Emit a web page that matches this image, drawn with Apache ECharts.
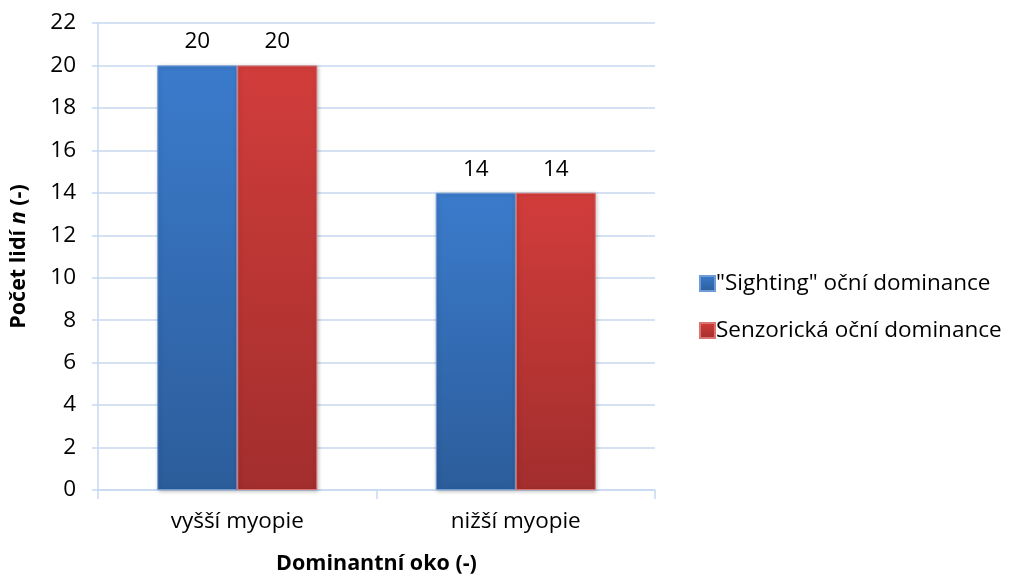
<!DOCTYPE html>
<html>
<head>
<meta charset="utf-8">
<script src="https://cdn.jsdelivr.net/npm/echarts@6/dist/echarts.min.js"></script>
<style>
  html, body { margin: 0; padding: 0; background: #fff; }
  #chart { width: 1013px; height: 580px; }
</style>
</head>
<body>
<div id="chart"></div>
<script>
// data
var categories = ['vyšší myopie', 'nižší myopie'];
var seriesNames = ['"Sighting" oční dominance', 'Senzorická oční dominance'];
var sightingValues = [20, 14];
var senzorickaValues = [20, 14];

var FONT = '"Open Sans", sans-serif';
var FS = 22.5;
var FSB = 21.5;

function grad(top, bottom) {
  return new echarts.graphic.LinearGradient(0, 0, 0, 1, [
    { offset: 0, color: top },
    { offset: 1, color: bottom }
  ]);
}

var chart = echarts.init(document.getElementById('chart'));
var option = {
  animation: false,
  textStyle: { fontFamily: FONT },
  grid: { left: 96, right: 358, top: 23, bottom: 88 },
  legend: {
    orient: 'vertical',
    left: 694,
    top: 267,
    itemWidth: 15,
    itemHeight: 15,
    itemGap: 24,
    icon: 'rect',
    textStyle: { fontSize: FS, color: '#000', fontFamily: FONT, padding: [0, 0, 0, -4] },
    data: seriesNames
  },
  xAxis: {
    type: 'category',
    data: categories,
    name: 'Dominantní oko (-)',
    nameLocation: 'middle',
    nameGap: 63,
    nameTextStyle: { fontSize: FSB, fontWeight: 'bold', color: '#000', fontFamily: FONT },
    axisLine: { lineStyle: { color: '#c6d9f1', width: 1.5 } },
    axisTick: { show: true, alignWithLabel: false, length: 9, lineStyle: { color: '#c6d9f1', width: 1.5 } },
    axisLabel: { fontSize: FS, color: '#000', margin: 20, fontFamily: FONT }
  },
  yAxis: {
    type: 'value',
    min: 0,
    max: 22,
    interval: 2,
    name: '{b|Počet lidí }{i|n}{b| (-)}',
    nameLocation: 'middle',
    nameGap: 68,
    nameRotate: 90,
    nameTextStyle: {
      rich: {
        b: { fontSize: FSB, fontWeight: 'bold', color: '#000', fontFamily: FONT },
        i: { fontSize: FSB, fontWeight: 'bold', fontStyle: 'italic', color: '#000', fontFamily: FONT }
      }
    },
    axisLine: { show: true, lineStyle: { color: '#c6d9f1', width: 1.5 } },
    axisTick: { show: true, length: 6, lineStyle: { color: '#c6d9f1', width: 1.5 } },
    axisLabel: { fontSize: FS, color: '#000', margin: 22, fontFamily: FONT },
    splitLine: { lineStyle: { color: '#c6d9f1', width: 1.5 } }
  },
  series: [
    {
      name: seriesNames[0],
      type: 'bar',
      data: sightingValues,
      barWidth: 80,
      barGap: '0%',
      itemStyle: {
        color: grad('#3b7bcc', '#2c5d9b'),
        borderColor: '#6f9bd6',
        borderWidth: 1,
        shadowColor: 'rgba(0,0,0,0.25)',
        shadowBlur: 4,
        shadowOffsetX: 1,
        shadowOffsetY: 1
      },
      label: { show: true, position: 'top', distance: 12, fontSize: FS, color: '#000', fontFamily: FONT }
    },
    {
      name: seriesNames[1],
      type: 'bar',
      data: senzorickaValues,
      barWidth: 80,
      barGap: '0%',
      itemStyle: {
        color: grad('#d13d3b', '#a22e2d'),
        borderColor: '#dc7473',
        borderWidth: 1,
        shadowColor: 'rgba(0,0,0,0.25)',
        shadowBlur: 4,
        shadowOffsetX: 1,
        shadowOffsetY: 1
      },
      label: { show: true, position: 'top', distance: 12, fontSize: FS, color: '#000', fontFamily: FONT }
    }
  ]
};
chart.setOption(option);
</script>
</body>
</html>
